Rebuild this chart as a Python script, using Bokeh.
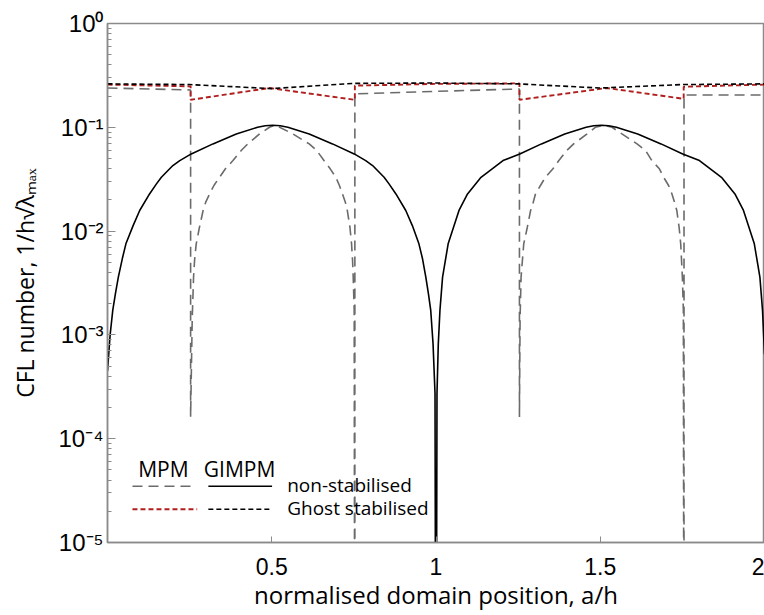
from bokeh.plotting import figure
from bokeh.models import CustomJSTickFormatter, FixedTicker, LogTicker
from bokeh.core.properties import value
from bokeh.embed import file_html
from bokeh.resources import INLINE

# Normalised domain position a/h and CFL number 1/(h sqrt(lambda_max)).
# A value of 1e-8 stands for a CFL number that drops to zero (below the log axis).

# GIMPM, non-stabilised (solid black)
gimpm_x = [0.0, 0.008, 0.016, 0.024, 0.033, 0.045, 0.056, 0.078, 0.098, 0.128,
           0.149, 0.164, 0.199, 0.220, 0.255, 0.321, 0.392, 0.457, 0.480, 0.503,
           0.526, 0.549, 0.614, 0.685, 0.751, 0.786, 0.807, 0.842, 0.857, 0.878,
           0.908, 0.928, 0.948, 0.959, 0.969, 0.977, 0.984, 0.991, 0.997, 1.0,
           1.003, 1.007, 1.012, 1.020, 1.037, 1.070, 1.096, 1.137, 1.204, 1.255,
           1.321, 1.392, 1.457, 1.480, 1.503, 1.526, 1.549, 1.614, 1.685, 1.751,
           1.802, 1.869, 1.910, 1.936, 1.969, 1.986, 1.994, 2.0]
gimpm_y = [4.5e-4, 1.0e-3, 1.72e-3, 2.49e-3, 3.6e-3, 5.41e-3, 7.54e-3, 0.0113, 0.0158, 0.0228,
           0.0285, 0.0330, 0.0428, 0.0478, 0.0554, 0.0692, 0.0863, 0.1001, 0.1036, 0.1046,
           0.1036, 0.1001, 0.0863, 0.0692, 0.0554, 0.0478, 0.0428, 0.0330, 0.0285, 0.0228,
           0.0158, 0.0113, 7.54e-3, 5.41e-3, 3.6e-3, 2.49e-3, 1.72e-3, 8.22e-4, 2.72e-4, 1e-8,
           2.72e-4, 8.22e-4, 1.72e-3, 3.6e-3, 7.54e-3, 0.0158, 0.0228, 0.0330, 0.0478, 0.0554,
           0.0692, 0.0863, 0.1001, 0.1036, 0.1046, 0.1036, 0.1001, 0.0863, 0.0692, 0.0554,
           0.0478, 0.0330, 0.0228, 0.0158, 7.54e-3, 3.6e-3, 1.72e-3, 6.5e-4]

# MPM, non-stabilised (grey dashed)
mpm_x = [0.0, 0.253, 0.253, 0.258, 0.262, 0.265, 0.270, 0.280, 0.291, 0.299,
         0.311, 0.324, 0.341, 0.359, 0.382, 0.407, 0.427, 0.463, 0.493, 0.508,
         0.524, 0.564, 0.614, 0.637, 0.659, 0.678, 0.695, 0.706, 0.715, 0.724,
         0.730, 0.738, 0.743, 0.746, 0.748, 0.751, 0.753, 0.753, 1.0, 1.254,
         1.254, 1.256, 1.259, 1.267, 1.278, 1.288, 1.296, 1.303, 1.318, 1.333,
         1.356, 1.374, 1.398, 1.419, 1.460, 1.485, 1.510, 1.536, 1.566, 1.612,
         1.638, 1.657, 1.680, 1.693, 1.708, 1.718, 1.726, 1.733, 1.740, 1.745,
         1.750, 1.753, 1.755, 1.755, 2.0]
mpm_y = [0.239, 0.229, 1.62e-4, 1.48e-3, 3.6e-3, 5.2e-3, 7.5e-3, 0.0109, 0.0158, 0.0190,
         0.0229, 0.0275, 0.0330, 0.0398, 0.0478, 0.0597, 0.0692, 0.0864, 0.1001, 0.1045,
         0.1001, 0.0864, 0.0692, 0.0597, 0.0478, 0.0398, 0.0330, 0.0275, 0.0229, 0.0190,
         0.0158, 0.0109, 7.5e-3, 5.2e-3, 3.6e-3, 1.72e-3, 1e-8, 0.210, 0.222, 0.234,
         1.62e-4, 1.48e-3, 3.6e-3, 7.5e-3, 0.0109, 0.0158, 0.0190, 0.0229, 0.0275, 0.0330,
         0.0398, 0.0478, 0.0597, 0.0692, 0.0864, 0.1001, 0.1045, 0.1001, 0.0864, 0.0692,
         0.0597, 0.0478, 0.0398, 0.0330, 0.0275, 0.0229, 0.0190, 0.0158, 0.0109, 7.5e-3,
         3.6e-3, 1.72e-3, 1e-8, 0.205, 0.205]

# MPM, Ghost stabilised (red short dashes)
mpm_gh_x = [0.0, 0.253, 0.253, 0.493, 0.753, 0.753, 1.0, 1.254, 1.254, 1.52, 1.754, 1.754, 2.0]
mpm_gh_y = [0.258, 0.248, 0.184, 0.239, 0.184, 0.252, 0.262, 0.265, 0.184, 0.239, 0.188, 0.246, 0.258]

# GIMPM, Ghost stabilised (black short dashes)
gimpm_gh_x = [0.0, 0.25, 0.5, 0.75, 1.0, 1.25, 1.5, 1.75, 2.0]
gimpm_gh_y = [0.262, 0.258, 0.236, 0.265, 0.267, 0.262, 0.239, 0.258, 0.262]

x_ticks = [0.5, 1, 1.5, 2]
x_label = "normalised domain position, a/h"
y_label = "CFL number, 1/h√λₘₐₓ"
legend_headers = ["MPM", "GIMPM"]
legend_rows = ["non-stabilised", "Ghost stabilised"]

GREY = "#6b6b6b"
RED = "#b01e1e"
AXIS_GREY = "#8a8a8a"
LABEL_FONT = "Open Sans"
TICK_FONT = "Liberation Sans"
SHORT_DASH = "5 3"
LONG_DASH = "10 6"

p = figure(width=764, height=615, x_range=(0, 2), y_range=(1e-5, 1),
           y_axis_type="log", output_backend="svg", toolbar_location=None,
           min_border_left=107, min_border_right=0, min_border_top=23,
           min_border_bottom=73)

p.line(mpm_x, mpm_y, line_color=GREY, line_width=1.6, line_dash=LONG_DASH)
p.line(gimpm_x, gimpm_y, line_color="black", line_width=1.6)
p.line(mpm_gh_x, mpm_gh_y, line_color=RED, line_width=1.9, line_dash=SHORT_DASH)
p.line(gimpm_gh_x, gimpm_gh_y, line_color="black", line_width=1.6, line_dash=SHORT_DASH)

# hand-drawn two-column key (MPM | GIMPM) in the lower-left corner
hdr_y, row1_y, row2_y = 5.1e-5, 3.48e-5, 2.09e-5
text_row1_y, text_row2_y = 3.62e-5, 2.17e-5
p.text([0.170, 0.402], [hdr_y, hdr_y], text=legend_headers, text_align="center",
       text_baseline="middle", text_font=value(LABEL_FONT), text_font_size="21px",
       text_color="black")
p.line([0.076, 0.258], [row1_y, row1_y], line_color=GREY, line_width=1.6, line_dash=LONG_DASH)
p.line([0.307, 0.501], [row1_y, row1_y], line_color="black", line_width=1.6)
p.line([0.076, 0.273], [row2_y, row2_y], line_color=RED, line_width=1.9, line_dash=SHORT_DASH)
p.line([0.307, 0.501], [row2_y, row2_y], line_color="black", line_width=1.6, line_dash=SHORT_DASH)
p.text([0.547, 0.547], [text_row1_y, text_row2_y], text=legend_rows, text_align="left",
       text_baseline="middle", text_font=value(LABEL_FONT), text_font_size="19px",
       text_color="black")

p.grid.visible = False
p.outline_line_color = AXIS_GREY
p.outline_line_width = 1.5
p.background_fill_color = "white"
p.border_fill_color = "white"

xa = p.xaxis[0]
xa.ticker = FixedTicker(ticks=x_ticks)
xa.axis_label = x_label
xa.axis_label_text_font = LABEL_FONT
xa.axis_label_text_font_size = "24px"
xa.axis_label_text_font_style = "normal"
xa.axis_label_text_color = "black"
xa.axis_label_standoff = 0
xa.major_label_text_font = TICK_FONT
xa.major_label_text_font_size = "23px"
xa.major_label_text_color = "black"
xa.major_label_standoff = 15
xa.axis_line_color = AXIS_GREY
xa.axis_line_width = 1.5
xa.major_tick_line_color = AXIS_GREY
xa.major_tick_in = 6
xa.major_tick_out = 0
xa.minor_tick_line_color = None

ya = p.yaxis[0]
ya.ticker = LogTicker(num_minor_ticks=10)
ya.formatter = CustomJSTickFormatter(code="""
    const sup = {"0": "\u2070", "1": "\u00b9", "2": "\u00b2", "3": "\u00b3",
                 "4": "\u2074", "5": "\u2075", "6": "\u2076", "7": "\u2077",
                 "8": "\u2078", "9": "\u2079", "-": "\u207b"};
    const e = Math.round(Math.log10(tick));
    return "10" + String(e).split("").map(c => sup[c]).join("");
""")
ya.axis_label = y_label
ya.axis_label_text_font = LABEL_FONT
ya.axis_label_text_font_size = "23px"
ya.axis_label_text_font_style = "normal"
ya.axis_label_text_color = "black"
ya.axis_label_standoff = 14
ya.major_label_text_font = TICK_FONT
ya.major_label_text_font_size = "24px"
ya.major_label_text_color = "black"
ya.major_label_standoff = 4
ya.axis_line_color = AXIS_GREY
ya.axis_line_width = 1.5
ya.major_tick_line_color = AXIS_GREY
ya.major_tick_in = 8
ya.major_tick_out = 0
ya.minor_tick_line_color = AXIS_GREY
ya.minor_tick_in = 4
ya.minor_tick_out = 0

open("out.html", "w").write(file_html(p, INLINE))
